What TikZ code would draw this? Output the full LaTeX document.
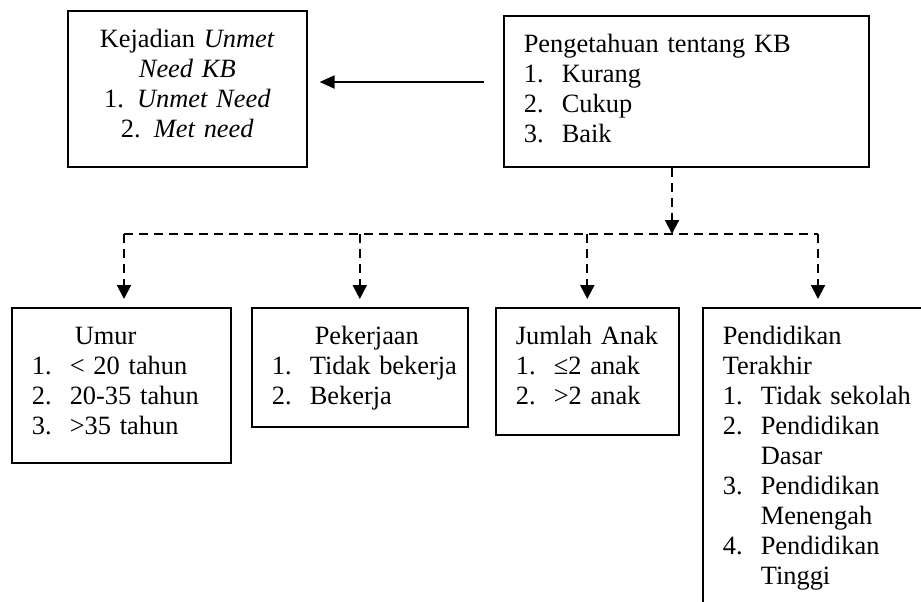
\documentclass[tikz,border=0pt]{standalone}
\usepackage{fontspec}
\setmainfont{Liberation Serif}
\usetikzlibrary{arrows.meta}
\newcommand{\li}[2]{\mbox{\makebox[19pt][l]{#1}#2}}
\begin{document}
\begin{tikzpicture}[
  x=0.5pt, y=-0.5pt,
  font=\fontsize{13.2}{15}\selectfont,
  box/.style={draw, line width=0.8pt, anchor=north west, align=left, inner xsep=10pt, inner ysep=8pt, text height=10.5pt},
  arrow/.style={-{Triangle[length=7.5pt, width=6.5pt]}, line width=1pt},
  dline/.style={line width=1pt, dash pattern=on 4.5pt off 3pt},
  darrow/.style={dline, -{Triangle[length=7pt, width=7pt]}}
]
\useasboundingbox (0,0) rectangle (921,601);
\node[box, align=center, text width=99.5pt, text depth=51.5pt] (kejadian) at (67,10)
  {Kejadian \textit{Unmet}\\\textit{Need KB}\\1. \textit{Unmet Need}\\2. \textit{Met need}};
\node[box, text width=162.5pt, text depth=49pt] (pengetahuan) at (503,15)
  {Pengetahuan tentang KB\\\li{1.}{Kurang}\\\li{2.}{Cukup}\\\li{3.}{Baik}};
\node[box, text width=89.5pt, text depth=51pt] (umur) at (11,307)
  {\hspace*{21.5pt}Umur\\\li{1.}{< 20 tahun}\\\li{2.}{20-35 tahun}\\\li{3.}{>35 tahun}};
\node[box, text width=88pt, text depth=33pt] (pekerjaan) at (251,307)
  {\hspace*{21.5pt}Pekerjaan\\\li{1.}{Tidak bekerja}\\\li{2.}{Bekerja}};
\node[box, text width=71.5pt, text depth=37pt] (jumlah) at (495,307)
  {Jumlah Anak\\\li{1.}{≤2 anak}\\\li{2.}{>2 anak}};
\node[box, text width=110pt, text depth=133.5pt] (pendidikan) at (702,307)
  {Pendidikan\\Terakhir\\\li{1.}{Tidak sekolah}\\\li{2.}{Pendidikan}\\\li{}{Dasar}\\\li{3.}{Pendidikan}\\\li{}{Menengah}\\\li{4.}{Pendidikan}\\\li{}{Tinggi}};
\coordinate (arrowy) at (0,82);
\coordinate (hub) at (672,234);
\coordinate (busL) at (124,234);
\coordinate (busR) at (818,234);
\draw[arrow, shorten <=9.5pt, shorten >=6pt] (pengetahuan.west |- arrowy) -- (kejadian.east |- arrowy);
\draw[darrow] (pengetahuan.south -| hub) -- (hub);
\draw[dline] (busL) -- (busR);
\draw[darrow, shorten >=4pt] (busL) -- (busL |- umur.north);
\draw[darrow, shorten >=4pt] (pekerjaan.north |- hub) -- (pekerjaan.north);
\draw[darrow, shorten >=4pt] (jumlah.north |- hub) -- (jumlah.north);
\draw[darrow, shorten >=4pt] (busR) -- (busR |- pendidikan.north);
\end{tikzpicture}
\end{document}
